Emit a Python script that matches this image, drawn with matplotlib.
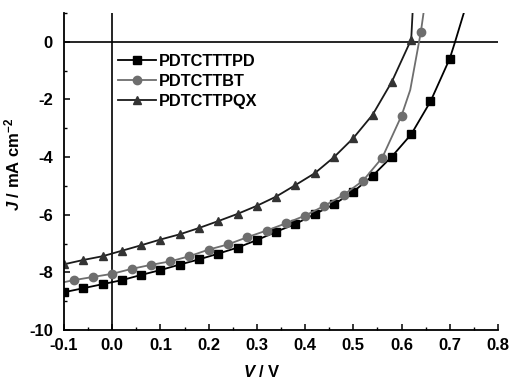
import matplotlib
matplotlib.use("Agg")
import matplotlib.pyplot as plt
from matplotlib.ticker import MultipleLocator, FormatStrFormatter

plt.rcParams['font.family'] = ['Liberation Sans', 'DejaVu Sans']
plt.rcParams['font.weight'] = 'bold'
plt.rcParams['axes.unicode_minus'] = False
plt.rcParams['mathtext.fontset'] = 'custom'
plt.rcParams['mathtext.it'] = 'Liberation Sans:bold:italic'
plt.rcParams['mathtext.rm'] = 'Liberation Sans:bold'

# PDTCTTTPD (squares), last two points are line only
V_tpd = [-0.10, -0.06, -0.02, 0.02, 0.06, 0.10, 0.14, 0.18, 0.22, 0.26, 0.30,
         0.34, 0.38, 0.42, 0.46, 0.50, 0.54, 0.58, 0.62, 0.66, 0.70, 0.711, 0.730]
J_tpd = [-8.69, -8.55, -8.41, -8.27, -8.09, -7.92, -7.73, -7.55, -7.35, -7.14, -6.88,
         -6.59, -6.32, -5.98, -5.64, -5.20, -4.65, -3.98, -3.21, -2.07, -0.58, 0.0, 1.05]

# PDTCTTBT (circles), first point and two of the last are line only
V_bt = [-0.10, -0.08, -0.04, 0.00, 0.04, 0.08, 0.12, 0.16, 0.20, 0.24, 0.28, 0.32,
        0.36, 0.40, 0.44, 0.48, 0.52, 0.56, 0.60, 0.618, 0.64, 0.646]
J_bt = [-8.34, -8.27, -8.16, -8.05, -7.88, -7.74, -7.62, -7.44, -7.21, -7.03, -6.78, -6.55,
        -6.30, -6.03, -5.69, -5.31, -4.82, -4.02, -2.56, -1.67, 0.34, 1.05]

# PDTCTTPQX (triangles), last point line only
V_pqx = [-0.10, -0.06, -0.02, 0.02, 0.06, 0.10, 0.14, 0.18, 0.22, 0.26, 0.30,
         0.34, 0.38, 0.42, 0.46, 0.50, 0.54, 0.58, 0.62, 0.623]
J_pqx = [-7.72, -7.57, -7.44, -7.25, -7.06, -6.86, -6.68, -6.46, -6.22, -5.97, -5.69,
         -5.37, -4.97, -4.56, -4.00, -3.34, -2.53, -1.38, 0.08, 1.05]

labels = ['PDTCTTTPD', 'PDTCTTBT', 'PDTCTTPQX']

fig = plt.figure(figsize=(5.1, 3.79), dpi=100)
ax = fig.add_axes([64 / 510, 1 - 330 / 379, 434 / 510, 317 / 379])

ax.axhline(0, color='black', lw=1.2, zorder=1)
ax.axvline(0, color='black', lw=1.2, zorder=1)

ax.plot(V_tpd, J_tpd, color='black', lw=1.3, marker='s', ms=5.5,
        mfc='black', mec='black', markevery=list(range(len(V_tpd) - 2)), label=labels[0])
ax.plot(V_bt, J_bt, color='#6e6e6e', lw=1.3, marker='o', ms=6,
        mfc='#6e6e6e', mec='#6e6e6e',
        markevery=list(range(1, len(V_bt) - 3)) + [len(V_bt) - 2], label=labels[1])
ax.plot(V_pqx, J_pqx, color='#1a1a1a', lw=1.3, marker='^', ms=6,
        mfc='#333333', mec='#333333', markevery=list(range(len(V_pqx) - 1)), label=labels[2])

ax.set_xlim(-0.1, 0.8)
ax.set_ylim(-10, 1)
ax.xaxis.set_major_locator(MultipleLocator(0.1))
ax.xaxis.set_minor_locator(MultipleLocator(0.05))
ax.yaxis.set_major_locator(MultipleLocator(2))
ax.yaxis.set_minor_locator(MultipleLocator(1))
ax.xaxis.set_major_formatter(FormatStrFormatter('%.1f'))
ax.yaxis.set_major_formatter(FormatStrFormatter('%d'))

for s in ['top', 'right']:
    ax.spines[s].set_visible(False)
for s in ['left', 'bottom']:
    ax.spines[s].set_linewidth(1.3)

ax.tick_params(which='major', direction='in', length=4, width=1.1, labelsize=12)
ax.tick_params(axis='x', which='major', pad=6)
ax.tick_params(axis='y', which='major', pad=8)
ax.tick_params(which='minor', direction='in', length=2, width=1.0)

ax.set_xlabel('$V$ / V', fontsize=12, fontweight='bold')
ax.xaxis.set_label_coords(0.455, -0.108)
ax.set_ylabel('$J$ / mA cm$^{-2}$', fontsize=12, fontweight='bold')
ax.yaxis.set_label_coords(-0.097, 0.523)

ax.legend(loc='upper left', bbox_to_anchor=(0.125, 0.87), frameon=False,
          borderpad=0, borderaxespad=0, handlelength=2.3, handletextpad=0.2,
          labelspacing=0.3, prop={'size': 11.8, 'weight': 'bold'})

fig.savefig('out.png', dpi=100)
